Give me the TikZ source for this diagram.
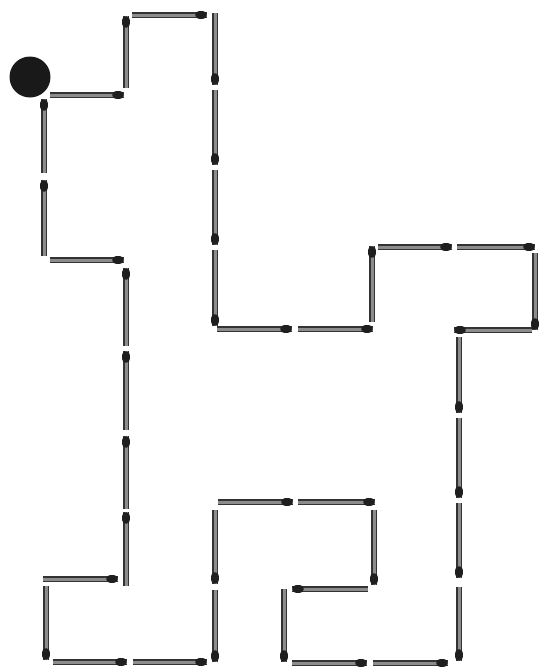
\documentclass[tikz,border=0pt]{standalone}
\usetikzlibrary{calc}
\newcommand\mtch[2]{\draw[stick](#2)--(#1);\draw[mhead]($(#1)!2.2pt!(#2)$)--($(#1)!3.8pt!(#2)$);}
\begin{document}
\begin{tikzpicture}[x=.5pt,y=-.5pt,stick/.style={draw=black!80,line width=.75pt,double=black!45,double distance=1.5pt},mhead/.style={line width=4.2pt,line cap=round,draw=black!88}]
\useasboundingbox(0,0)rectangle(542,670);
\node[circle,fill=black!90,minimum size=20.5pt,inner sep=0](start)at(30,77){};
\mtch{126,16}{126,88}\mtch{207,15}{132,15}\mtch{124,95}{50,95}\mtch{44,99}{44,173}\mtch{44,180}{44,256}\mtch{124,260}{50,260}
\mtch{126,268}{126,346}\mtch{126,351}{126,430}\mtch{126,436}{126,509}\mtch{126,512}{126,586}
\mtch{118,579}{43,579}\mtch{46,660}{46,586}\mtch{127,662}{53,662}\mtch{207,662}{133,662}\mtch{215,662}{215,590}\mtch{215,584}{215,510}
\mtch{293,502}{218,502}\mtch{375,502}{298,502}\mtch{374,585}{374,510}\mtch{292,589}{368,589}\mtch{284,662}{284,589}
\mtch{367,663}{292,663}\mtch{448,663}{373,663}\mtch{459,661}{459,587}\mtch{459,578}{459,503}\mtch{459,498}{459,418}\mtch{459,413}{459,337}
\mtch{454,330}{532,330}\mtch{535,330}{535,253}\mtch{535,247}{457,247}\mtch{452,247}{378,247}\mtch{372,246}{372,322}
\mtch{373,329}{298,329}\mtch{292,329}{217,329}
\mtch{215,85}{215,13}\mtch{215,165}{215,90}\mtch{215,245}{215,170}\mtch{215,326}{215,250}
\end{tikzpicture}
\end{document}
